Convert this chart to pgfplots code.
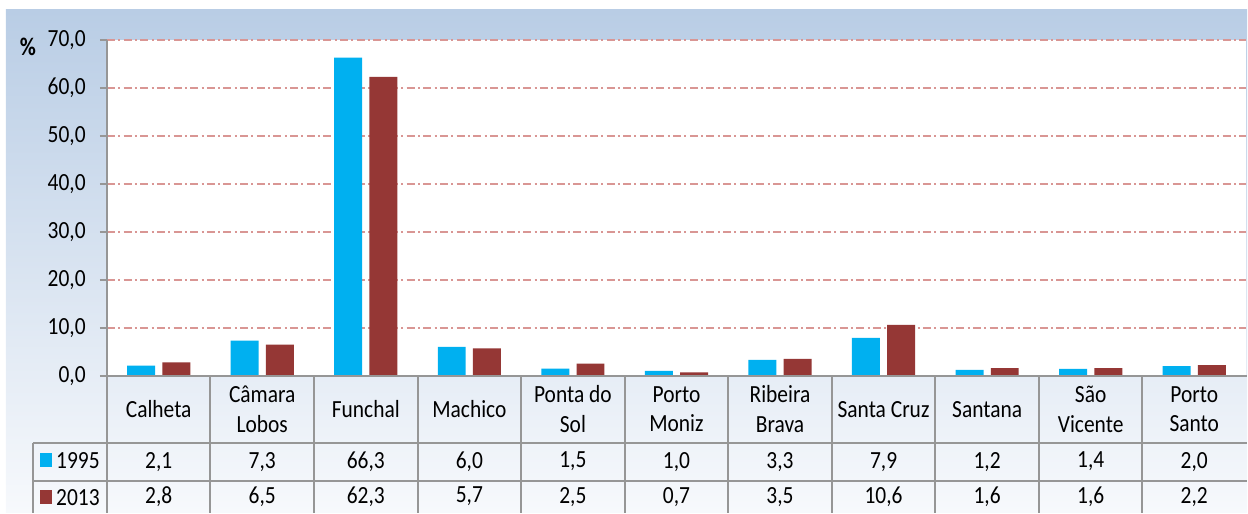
\documentclass[border=0pt]{standalone}
\usepackage{fontspec}
\setmainfont[FakeStretch=0.87]{Carlito}
\usepackage{pgfplots}
\usepackage{pgfplotstable}
\pgfplotsset{compat=1.18}
\definecolor{bgtop}{HTML}{B9CDE5}
\definecolor{bgbot}{HTML}{F7F9FC}
\definecolor{c95}{HTML}{00B0F0}
\definecolor{c13}{HTML}{953735}
\definecolor{gridred}{HTML}{D99694}
\definecolor{linegray}{HTML}{969696}

\pgfplotstableread{
x a b
0 2.1 2.8
1 7.3 6.5
2 66.3 62.3
3 6.0 5.7
4 1.5 2.5
5 1.0 0.7
6 3.3 3.5
7 7.9 10.6
8 1.2 1.6
9 1.4 1.6
10 2.0 2.2
}\data

\begin{document}
\begin{tikzpicture}
\pgfkeys{/pgf/number format/.cd,use comma,fixed,fixed zerofill,precision=1,assume math mode=true}
\begin{scope}[x=0.75pt,y=-0.75pt]
\useasboundingbox (0,0) rectangle (1248,513);
\shade[top color=bgtop,bottom color=bgbot] (6,10) rectangle (1248,513);
\end{scope}
\begin{axis}[
  at={(80.25pt,-282pt)}, anchor=south west,
  scale only axis, width=855pt, height=252pt,
  xmin=-0.5, xmax=10.5, ymin=0, ymax=70,
  axis x line*=bottom, axis y line*=left,
  axis line style={linegray, line width=1.5pt},
  xtick=\empty,
  ytick={0,10,...,70},
  tick align=outside,
  major tick length=5.25pt,
  ytick style={linegray, line width=1.5pt},
  ymajorgrids,
  grid style={gridred, line width=1.3pt, dash pattern=on 6pt off 2.5pt on 1.5pt off 2.5pt},
  axis background/.style={fill=white},
  yticklabel style={font=\fontsize{18.5}{21}\selectfont, anchor=east, inner sep=0pt, xshift=-10.5pt},
  /pgf/number format/.cd, use comma, fixed, fixed zerofill, precision=1, assume math mode=true,
]
\addplot[ybar, bar width=0.27, bar shift=-0.17, fill=c95, draw=none] table[x=x,y=a]{\data};
\addplot[ybar, bar width=0.27, bar shift=0.17, fill=c13, draw=none] table[x=x,y=b]{\data};
\end{axis}
\begin{scope}[x=0.75pt,y=-0.75pt]
\node[font=\bfseries\fontsize{19}{21}\selectfont, inner sep=0pt] at (28,47) {\%};
\draw[linegray, line width=1.5pt] (33,443) -- (1248,443);
\draw[linegray, line width=1.5pt] (33,481) -- (1248,481);
\draw[linegray, line width=1.5pt] (33,443) -- (33,513);
\draw[linegray, line width=1.5pt] (107,376) -- (1248,376);
\foreach \i in {0,...,10} {
  \draw[linegray, line width=1.5pt] ({107+103.636*\i},376) -- ({107+103.636*\i},513);
}
\foreach \name [count=\j from 0] in {{Calheta},{Câmara\\Lobos},{Funchal},{Machico},{Ponta do\\Sol},{Porto\\Moniz},{Ribeira\\Brava},{Santa Cruz},{Santana},{São\\Vicente},{Porto\\Santo}} {
  \node[font=\fontsize{18.5}{22.5}\selectfont, align=center] at ({107+103.636*(\j+0.5)},409.5) {\name};
}
\foreach \i in {0,...,10} {
  \node[font=\fontsize{18.5}{21}\selectfont] at ({107+103.636*(\i+0.5)},462) {\pgfplotstablegetelem{\i}{a}\of\data\pgfmathprintnumber{\pgfplotsretval}};
  \node[font=\fontsize{18.5}{21}\selectfont] at ({107+103.636*(\i+0.5)},497) {\pgfplotstablegetelem{\i}{b}\of\data\pgfmathprintnumber{\pgfplotsretval}};
}
\fill[c95] (40,453) rectangle (52,467);
\node[font=\fontsize{18.5}{21}\selectfont, anchor=west, inner sep=0pt] at (56,461) {1995};
\fill[c13] (40,490) rectangle (52,504);
\node[font=\fontsize{18.5}{21}\selectfont, anchor=west, inner sep=0pt] at (56,498) {2013};
\end{scope}
\end{tikzpicture}
\end{document}
